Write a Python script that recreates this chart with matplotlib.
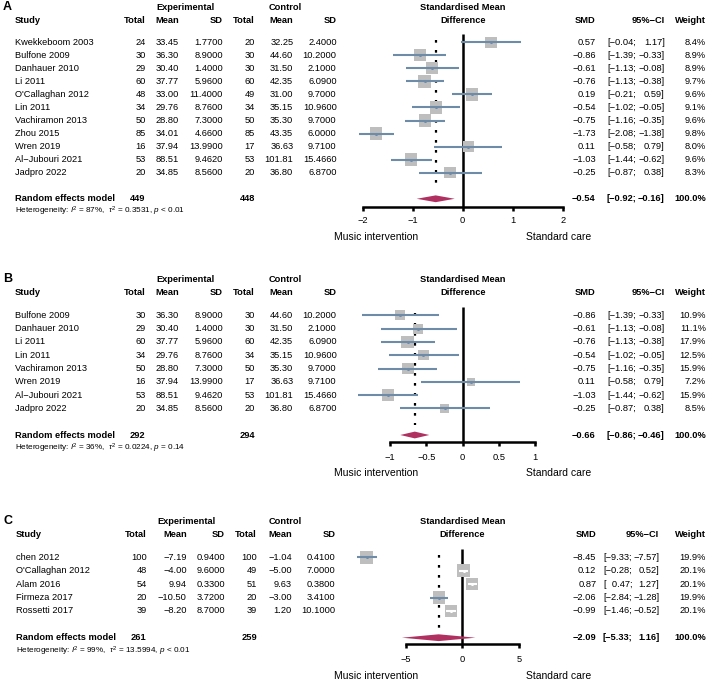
import numpy as np
import matplotlib.pyplot as plt
from matplotlib.patches import Polygon
from matplotlib.transforms import blended_transform_factory

plt.rcParams['font.family'] = ['Liberation Sans', 'DejaVu Sans']
plt.rcParams['mathtext.fontset'] = 'custom'
plt.rcParams['mathtext.rm'] = 'Liberation Sans'
plt.rcParams['mathtext.it'] = 'Liberation Sans:italic'

W, H = 708, 688
MINUS = '\u2212'

# ---- panel A data
a_study = ['Kwekkeboom 2003', 'Bulfone 2009', 'Danhauer 2010', 'Li 2011', "O'Callaghan 2012",
           'Lin 2011', 'Vachiramon 2013', 'Zhou 2015', 'Wren 2019', 'Al-Jubouri 2021', 'Jadpro 2022']
a_n_e = [24, 30, 29, 60, 48, 34, 50, 85, 16, 53, 20]
a_mean_e = [33.45, 36.30, 30.40, 37.77, 33.00, 29.76, 28.80, 34.01, 37.94, 88.51, 34.85]
a_sd_e = [1.77, 8.9, 1.4, 5.96, 11.4, 8.76, 7.3, 4.66, 13.99, 9.462, 8.56]
a_n_c = [20, 30, 30, 60, 49, 34, 50, 85, 17, 53, 20]
a_mean_c = [32.25, 44.60, 31.50, 42.35, 31.00, 35.15, 35.30, 43.35, 36.63, 101.81, 36.80]
a_sd_c = [2.4, 10.2, 2.1, 6.09, 9.7, 10.96, 9.7, 6.0, 9.71, 15.466, 6.87]
a_smd = [0.57, -0.86, -0.61, -0.76, 0.19, -0.54, -0.75, -1.73, 0.11, -1.03, -0.25]
a_lo = [-0.04, -1.39, -1.13, -1.13, -0.21, -1.02, -1.16, -2.08, -0.58, -1.44, -0.87]
a_hi = [1.17, -0.33, -0.08, -0.38, 0.59, -0.05, -0.35, -1.38, 0.79, -0.62, 0.38]
a_w = [8.4, 8.9, 8.9, 9.7, 9.6, 9.1, 9.6, 9.8, 8.0, 9.6, 8.3]
a_re = [-0.54, -0.92, -0.16]
a_tot = [449, 448]
a_het = ['87%', '0.3531', '< 0.01']
a_ticks = [-2, -1, 0, 1, 2]

# ---- panel B data
b_study = ['Bulfone 2009', 'Danhauer 2010', 'Li 2011', 'Lin 2011', 'Vachiramon 2013',
           'Wren 2019', 'Al-Jubouri 2021', 'Jadpro 2022']
b_n_e = [30, 29, 60, 34, 50, 16, 53, 20]
b_mean_e = [36.30, 30.40, 37.77, 29.76, 28.80, 37.94, 88.51, 34.85]
b_sd_e = [8.9, 1.4, 5.96, 8.76, 7.3, 13.99, 9.462, 8.56]
b_n_c = [30, 30, 60, 34, 50, 17, 53, 20]
b_mean_c = [44.60, 31.50, 42.35, 35.15, 35.30, 36.63, 101.81, 36.80]
b_sd_c = [10.2, 2.1, 6.09, 10.96, 9.7, 9.71, 15.466, 6.87]
b_smd = [-0.86, -0.61, -0.76, -0.54, -0.75, 0.11, -1.03, -0.25]
b_lo = [-1.39, -1.13, -1.13, -1.02, -1.16, -0.58, -1.44, -0.87]
b_hi = [-0.33, -0.08, -0.38, -0.05, -0.35, 0.79, -0.62, 0.38]
b_w = [10.9, 11.1, 17.9, 12.5, 15.9, 7.2, 15.9, 8.5]
b_re = [-0.66, -0.86, -0.46]
b_tot = [292, 294]
b_het = ['36%', '0.0224', '= 0.14']
b_ticks = [-1, -0.5, 0, 0.5, 1]

# ---- panel C data
c_study = ['chen 2012', "O'Callaghan 2012", 'Alam 2016', 'Firmeza 2017', 'Rossetti 2017']
c_n_e = [100, 48, 54, 20, 39]
c_mean_e = [-7.19, -4.00, 9.94, -10.50, -8.20]
c_sd_e = [0.94, 9.6, 0.33, 3.72, 8.7]
c_n_c = [100, 49, 51, 20, 39]
c_mean_c = [-1.04, -5.00, 9.63, -3.00, 1.20]
c_sd_c = [0.41, 7.0, 0.38, 3.41, 10.1]
c_smd = [-8.45, 0.12, 0.87, -2.06, -0.99]
c_lo = [-9.33, -0.28, 0.47, -2.84, -1.46]
c_hi = [-7.57, 0.52, 1.27, -1.28, -0.52]
c_w = [19.9, 20.1, 20.1, 19.9, 20.1]
c_re = [-2.09, -5.33, 1.16]
c_tot = [261, 259]
c_het = ['99%', '13.5994', '< 0.01']
c_ticks = [-5, 0, 5]

panels = [
    dict(tag='A', study=a_study, n_e=a_n_e, m_e=a_mean_e, s_e=a_sd_e, n_c=a_n_c, m_c=a_mean_c,
         s_c=a_sd_c, smd=a_smd, lo=a_lo, hi=a_hi, w=a_w, re=a_re, tot=a_tot, het=a_het,
         ticks=a_ticks, y0=42.3, dy=13.04, zero=462.7, scale=50.0, axis_y=207.0, pad=3.5,
         cols=[15, 145.7, 179, 223, 255, 293.3, 336.7], smd_x=595.7, semi_x=636.5, ci_x=664.7),
    dict(tag='B', study=b_study, n_e=b_n_e, m_e=b_mean_e, s_e=b_sd_e, n_c=b_n_c, m_c=b_mean_c,
         s_c=b_sd_c, smd=b_smd, lo=b_lo, hi=b_hi, w=b_w, re=b_re, tot=b_tot, het=b_het,
         ticks=b_ticks, y0=315.3, dy=13.3, zero=462.7, scale=72.6, axis_y=441.7, pad=5,
         cols=[15, 145.7, 179, 223, 255, 293.3, 336.7], smd_x=595.7, semi_x=636.5, ci_x=664.7),
    dict(tag='C', study=c_study, n_e=c_n_e, m_e=c_mean_e, s_e=c_sd_e, n_c=c_n_c, m_c=c_mean_c,
         s_c=c_sd_c, smd=c_smd, lo=c_lo, hi=c_hi, w=c_w, re=c_re, tot=c_tot, het=c_het,
         ticks=c_ticks, y0=557.3, dy=13.4, zero=462.3, scale=11.33, axis_y=644.3, pad=5,
         cols=[15.7, 146.7, 186.7, 225, 257, 291.7, 335.7], smd_x=596.3, semi_x=632.5, ci_x=659.3),
]

FS = 6.7
sq_col = '#BEBEBE'
ci_col = '#6E8CA8'
dia_col = '#B03060'


def num(v, d):
    return f'{v:.{d}f}'.replace('-', MINUS)


fig = plt.figure(figsize=(W / 100, H / 100), dpi=100)

for p in panels:
    y0, dy = p['y0'], p['dy']
    t0, t1 = p['ticks'][0], p['ticks'][-1]
    left = p['zero'] + t0 * p['scale']
    right = p['zero'] + t1 * p['scale']
    top = y0 - 3 * dy
    bot = p['axis_y']
    ax = fig.add_axes([left / W, 1 - bot / H, (right - left) / W, (bot - top) / H])
    ybot = (bot - y0) / dy
    ax.set_xlim(t0, t1)
    ax.set_ylim(ybot, -3)
    ax.patch.set_alpha(0)
    for s in ['top', 'left', 'right']:
        ax.spines[s].set_visible(False)
    ax.spines['bottom'].set_linewidth(1.8)
    ax.set_yticks([])
    ax.set_xticks(p['ticks'])
    ax.set_xticklabels([f'{t:g}'.replace('-', MINUS) for t in p['ticks']])
    ax.tick_params(axis='x', length=3, width=1.8, labelsize=FS, pad=p['pad'])

    tr = blended_transform_factory(fig.transFigure, ax.transData)

    def put(x, r, s, ha='left', **kw):
        kw.setdefault('fontsize', FS)
        ax.text(x / W, r, s, transform=tr, ha=ha, va='center', **kw)

    n = len(p['study'])
    rows = np.arange(n)
    re_row = n + 1
    c = p['cols']

    # headers
    put(3, -2.7, p['tag'], fontsize=9, fontweight='bold')
    put((c[1] + c[3]) / 2 + 1, -2.7, 'Experimental', ha='center', fontweight='bold')
    put((c[4] + c[6]) / 2 - 11, -2.7, 'Control', ha='center', fontweight='bold')
    put(p['zero'], -2.7, 'Standardised Mean', ha='center', fontweight='bold')
    put(p['zero'], -1.7, 'Difference', ha='center', fontweight='bold')
    put(c[0], -1.7, 'Study', fontweight='bold')
    for x, s in zip(c[1:], ['Total', 'Mean', 'SD', 'Total', 'Mean', 'SD']):
        put(x, -1.7, s, ha='right', fontweight='bold')
    put(p['smd_x'], -1.7, 'SMD', ha='right', fontweight='bold')
    put(p['ci_x'], -1.7, '95%' + MINUS + 'CI', ha='right', fontweight='bold')
    put(706, -1.7, 'Weight', ha='right', fontweight='bold')

    # study rows
    for i in rows:
        put(c[0], i, p['study'][i].replace('-', MINUS))
        put(c[1], i, str(p['n_e'][i]), ha='right')
        put(c[2], i, num(p['m_e'][i], 2), ha='right')
        put(c[3], i, num(p['s_e'][i], 4), ha='right')
        put(c[4], i, str(p['n_c'][i]), ha='right')
        put(c[5], i, num(p['m_c'][i], 2), ha='right')
        put(c[6], i, num(p['s_c'][i], 4), ha='right')
        put(p['smd_x'], i, num(p['smd'][i], 2), ha='right')
        lo = p['lo'][i]
        put(p['semi_x'], i, '[' + ('  ' if lo >= 0 else '') + num(lo, 2) + ';', ha='right')
        put(p['ci_x'], i, num(p['hi'][i], 2) + ']', ha='right')
        put(706, i, f"{p['w'][i]:.1f}%", ha='right')

    # random effects row
    put(c[0], re_row, 'Random effects model', fontweight='bold')
    put(c[1], re_row, str(p['tot'][0]), ha='right', fontweight='bold')
    put(c[4], re_row, str(p['tot'][1]), ha='right', fontweight='bold')
    est, rlo, rhi = p['re']
    put(p['smd_x'], re_row, num(est, 2), ha='right', fontweight='bold')
    put(p['semi_x'], re_row, '[' + num(rlo, 2) + ';', ha='right', fontweight='bold')
    put(p['ci_x'], re_row, num(rhi, 2) + ']', ha='right', fontweight='bold')
    put(706, re_row, '100.0%', ha='right', fontweight='bold')
    i2, tau2, pv = p['het']
    put(c[0], re_row + 1,
        f'Heterogeneity: $I^2$ = {i2},  $\\tau^2$ = {tau2}, $p$ {pv}', fontsize=5.9)

    # labels under axis
    lab_r = re_row + 38 / dy
    put(418, lab_r, 'Music intervention', ha='right', fontsize=7.5)
    put(526, lab_r, 'Standard care', ha='left', fontsize=7.5)

    # forest marks
    ax.plot([0, 0], [-0.65, ybot], color='black', lw=1.8, zorder=1, clip_on=False,
            solid_capstyle='butt')
    ax.plot([est, est], [-0.15, re_row - 0.75], color='black', lw=1.6,
            ls=(0, (1.2, 3.3)), dash_capstyle='butt', zorder=1, clip_on=False)
    w = np.array(p['w'])
    side = 12.5 * np.sqrt(w / w.max())
    ax.scatter(p['smd'], rows, marker='s', s=(side * 0.72) ** 2, color=sq_col,
               linewidths=0, zorder=2, clip_on=False)
    for i in rows:
        inside = (p['hi'][i] - p['lo'][i]) * p['scale'] < side[i]
        col = 'white' if inside else ci_col
        ax.plot([p['lo'][i], p['hi'][i]], [i, i], color=col, lw=1.5, zorder=3,
                clip_on=False, solid_capstyle='butt')
        ax.plot(p['smd'][i], i, 'o', ms=2.2, color=col, mec='none', zorder=4, clip_on=False)
    h = 3.4 / dy
    ax.add_patch(Polygon([[rlo, re_row], [est, re_row - h], [rhi, re_row], [est, re_row + h]],
                         closed=True, color=dia_col, lw=0, zorder=3, clip_on=False))

fig.savefig('out.png', dpi=100)
